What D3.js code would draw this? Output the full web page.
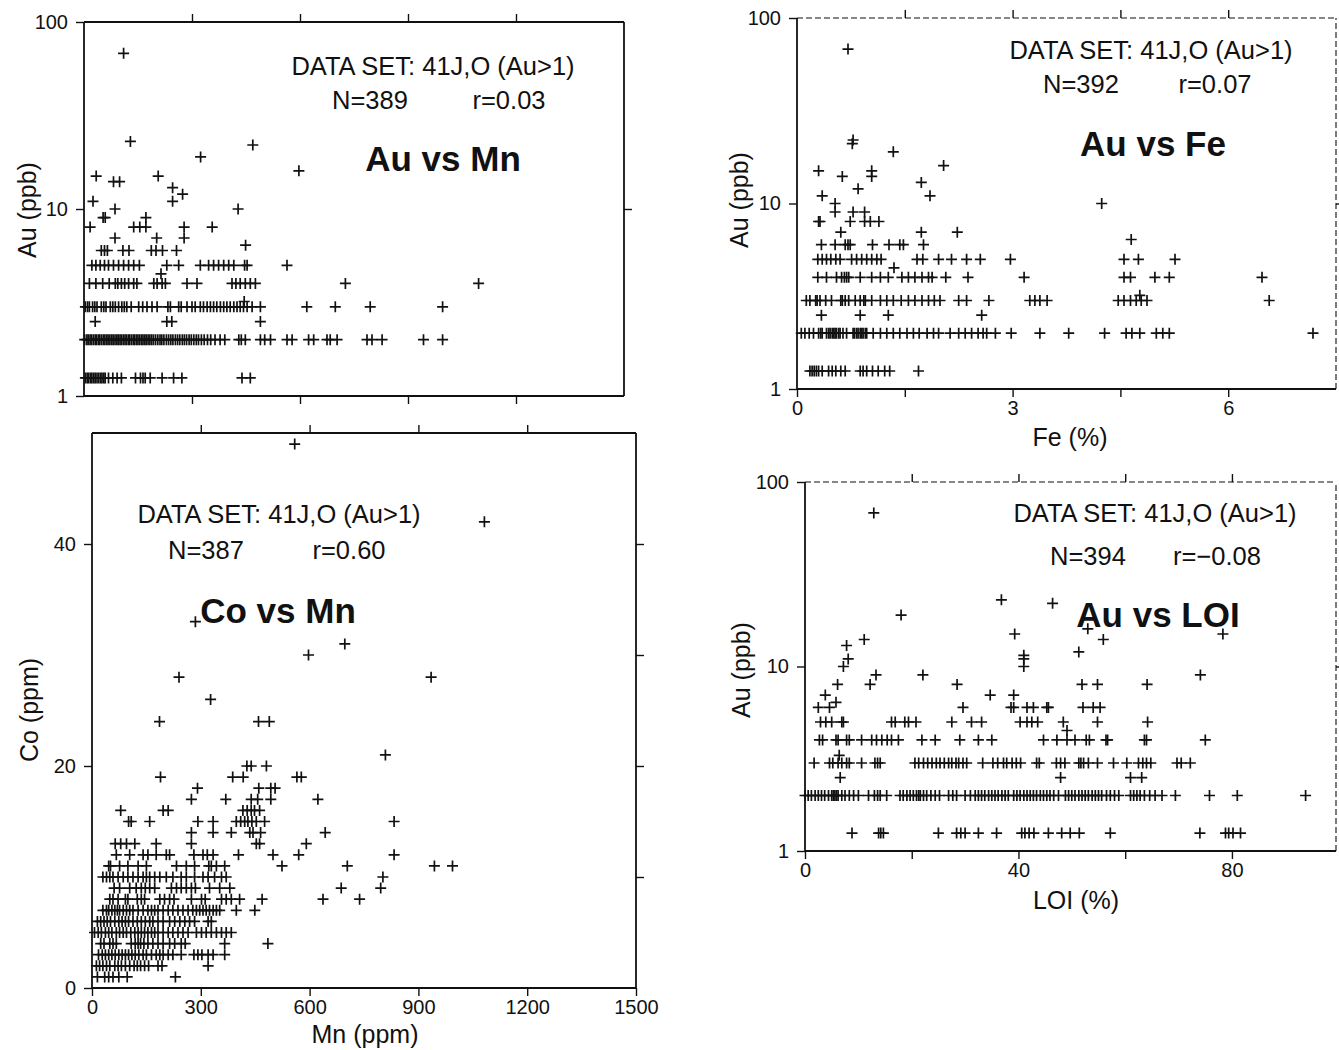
<!DOCTYPE html>
<html>
<head>
<meta charset="utf-8">
<script src="https://cdn.jsdelivr.net/npm/d3@7/dist/d3.min.js"></script>
<style>
  body { margin: 0; background: #fff; }
  svg { display: block; font-family: "Liberation Sans", Arial, Helvetica, sans-serif; }
  .tick text { font-size: 20px; fill: #111; }
  .tick line { stroke: #111; stroke-width: 1.4; }
</style>
</head>
<body>
<svg id="chart" width="1339" height="1050"></svg>
<script>
// ---- data: [y value, [x values...]] per row ----

// Au (ppb) vs Mn (ppm)
var auMnRows = [
  [1.25, [4, 9, 13, 18, 22, 27, 31, 36, 41, 46, 50, 55, 59, 68, 80, 92, 104, 143, 157, 164, 170, 184, 217, 249, 272, 439, 462]],
  [2, [2, 8, 12, 17, 21, 26, 31, 35, 40, 44, 49, 54, 58, 63, 67, 72, 77, 81, 86, 91, 95, 100, 104, 109, 114, 118, 123, 127, 132, 137, 141, 146, 150, 155, 160, 164, 169, 173, 178, 183, 188, 193, 199, 205, 211, 216, 222, 229, 235, 241, 247, 254, 260, 266, 273, 279, 285, 292, 298, 305, 312, 318, 326, 334, 343, 352, 364, 378, 391, 430, 437, 448, 490, 502, 518, 564, 578, 624, 638, 675, 684, 703, 786, 800, 828, 943, 996]],
  [2.5, [31, 230, 244, 490]],
  [3, [4, 10, 15, 24, 30, 36, 48, 55, 61, 73, 80, 87, 96, 105, 112, 119, 131, 152, 163, 175, 189, 203, 233, 240, 263, 270, 286, 300, 309, 323, 332, 342, 351, 360, 369, 379, 388, 397, 406, 416, 425, 434, 443, 453, 467, 490, 619, 698, 795, 996]],
  [3.2, [445]],
  [4, [15, 33, 52, 70, 87, 94, 104, 113, 124, 138, 147, 194, 203, 217, 226, 286, 314, 411, 422, 434, 448, 462, 476, 726, 1096]],
  [4.5, [214]],
  [5, [22, 33, 45, 57, 68, 82, 96, 110, 124, 138, 154, 230, 263, 323, 346, 360, 374, 388, 402, 416, 446, 453, 564]],
  [6, [48, 57, 65, 108, 125, 187, 200, 218, 257]],
  [6.4, [449]],
  [7, [86, 202, 278]],
  [8, [17, 138, 155, 172, 278, 356]],
  [9, [53, 59, 172]],
  [10, [86, 428]],
  [11, [25, 246]],
  [12, [274]],
  [13, [246]],
  [14, [82, 99]],
  [15, [34, 206]],
  [16, [597]],
  [19, [324]],
  [22, [469]],
  [23, [129]],
  [68, [110]]
];

// Au (ppb) vs Fe (%)
var auFeRows = [
  [1.25, [0.18, 0.21, 0.24, 0.27, 0.30, 0.35, 0.44, 0.49, 0.54, 0.61, 0.67, 0.88, 0.92, 0.97, 1.05, 1.13, 1.22, 1.29, 1.69]],
  [2, [0.06, 0.11, 0.17, 0.23, 0.30, 0.33, 0.35, 0.41, 0.44, 0.46, 0.49, 0.51, 0.53, 0.55, 0.58, 0.60, 0.64, 0.69, 0.78, 0.80, 0.83, 0.85, 0.88, 0.90, 0.92, 0.95, 0.97, 1.06, 1.16, 1.25, 1.34, 1.43, 1.53, 1.62, 1.70, 1.81, 1.90, 1.97, 2.13, 2.25, 2.34, 2.43, 2.52, 2.59, 2.64, 2.76, 2.98, 3.38, 3.78, 4.28, 4.58, 4.66, 4.77, 5.00, 5.09, 5.18, 7.18]],
  [2.5, [0.34, 0.88, 1.27, 2.57]],
  [3, [0.13, 0.18, 0.26, 0.28, 0.32, 0.40, 0.48, 0.61, 0.63, 0.67, 0.72, 0.81, 0.88, 0.93, 0.95, 1.04, 1.16, 1.25, 1.34, 1.45, 1.55, 1.64, 1.74, 1.83, 1.91, 1.99, 2.25, 2.36, 2.67, 3.24, 3.31, 3.38, 3.48, 4.47, 4.55, 4.64, 4.72, 4.79, 4.87, 6.57]],
  [3.2, [4.77]],
  [4, [0.29, 0.41, 0.55, 0.62, 0.66, 0.69, 0.72, 0.88, 1.04, 1.16, 1.27, 1.46, 1.55, 1.64, 1.74, 1.83, 1.88, 2.07, 2.38, 3.16, 4.55, 4.64, 4.98, 5.18, 6.47]],
  [4.5, [1.35]],
  [5, [0.29, 0.35, 0.41, 0.47, 0.54, 0.60, 0.76, 0.83, 0.90, 0.97, 1.04, 1.11, 1.17, 1.67, 1.75, 1.97, 2.15, 2.36, 2.55, 2.97, 4.55, 4.75, 5.26]],
  [6, [0.34, 0.53, 0.67, 0.71, 0.74, 1.05, 1.28, 1.43, 1.48, 1.76]],
  [6.4, [4.65]],
  [7, [0.61, 1.73, 2.23]],
  [8, [0.30, 0.32, 0.74, 0.94, 1.02, 1.14]],
  [9, [0.53, 0.78, 0.94]],
  [10, [0.53, 4.24]],
  [11, [0.35, 1.85]],
  [12, [0.85]],
  [13, [1.73]],
  [14, [0.63, 1.04]],
  [15, [0.30, 1.04]],
  [16, [2.04]],
  [19, [1.34]],
  [21, [0.77]],
  [22, [0.78]],
  [68, [0.71]]
];

// Co (ppm) vs Mn (ppm)
var coMnRows = [
  [1, [15, 35, 46, 58, 74, 97, 230]],
  [2, [12, 21, 30, 40, 49, 63, 72, 81, 92, 104, 116, 125, 134, 145, 156, 182, 193, 320]],
  [3, [18, 28, 37, 46, 55, 64, 74, 83, 92, 101, 110, 119, 129, 141, 150, 164, 177, 187, 196, 210, 223, 246, 281, 292, 303, 320, 334, 366]],
  [4, [24, 33, 49, 58, 67, 108, 119, 127, 134, 143, 154, 168, 182, 196, 214, 228, 246, 257, 366, 485]],
  [5, [7, 17, 26, 37, 46, 55, 67, 76, 86, 95, 107, 118, 127, 136, 145, 154, 164, 173, 182, 196, 210, 223, 237, 251, 265, 288, 302, 315, 329, 343, 357, 370, 384]],
  [6, [15, 24, 33, 42, 51, 63, 74, 83, 92, 101, 113, 125, 136, 147, 159, 168, 182, 196, 214, 228, 242, 256, 269, 283, 320, 329]],
  [7, [30, 40, 46, 55, 63, 70, 76, 86, 95, 104, 113, 127, 141, 154, 164, 173, 182, 196, 210, 223, 237, 251, 265, 278, 288, 297, 306, 315, 324, 334, 343, 352, 398, 449]],
  [8, [49, 58, 72, 92, 99, 125, 136, 145, 187, 200, 214, 226, 274, 302, 312, 357, 370, 384, 407, 469, 637, 738]],
  [9, [61, 76, 104, 122, 136, 147, 159, 173, 219, 233, 246, 260, 274, 285, 324, 352, 380, 687, 796]],
  [10, [30, 40, 49, 58, 72, 86, 99, 113, 127, 141, 150, 159, 173, 187, 205, 223, 246, 260, 283, 306, 320, 338, 357, 370, 802]],
  [11, [46, 51, 76, 99, 127, 150, 233, 260, 283, 322, 329, 343, 366, 524, 704, 944, 994]],
  [12, [67, 104, 141, 154, 177, 205, 214, 281, 306, 318, 334, 404, 499, 570, 833]],
  [13, [64, 79, 95, 118, 177, 274, 453, 462, 591]],
  [14, [274, 334, 384, 435, 444, 465, 643]],
  [15, [101, 108, 159, 292, 334, 398, 410, 421, 430, 441, 453, 476, 833]],
  [16, [79, 196, 210, 416, 428, 439, 448, 462]],
  [17, [274, 369, 439, 457, 493, 623]],
  [18, [291, 460, 493, 505]],
  [19, [189, 388, 417, 565, 577]],
  [20, [427, 439, 481]],
  [21, [809]],
  [24, [186, 459, 489]],
  [26, [327]],
  [28, [240, 935]],
  [30, [597]],
  [31, [697]],
  [33, [285]],
  [42, [1082]],
  [49, [559]]
];

// Au (ppb) vs LOI (%)
var auLoiRows = [
  [1.25, [8.8, 13.8, 14.2, 14.7, 25.0, 28.4, 29.2, 30.0, 32.5, 35.9, 40.6, 41.2, 42.0, 42.9, 45.6, 48.1, 49.7, 51.4, 57.2, 74.0, 78.8, 79.4, 80.2, 81.6]],
  [2, [0.0, 0.6, 1.2, 1.9, 2.5, 3.1, 3.7, 4.4, 5.0, 5.3, 5.6, 5.9, 6.2, 6.9, 7.5, 8.3, 9.1, 10.0, 11.9, 13.0, 13.6, 14.1, 15.3, 17.8, 18.4, 19.1, 19.7, 20.3, 20.9, 21.3, 21.6, 22.2, 22.8, 23.6, 24.4, 25.2, 26.9, 27.7, 28.4, 30.0, 31.0, 31.9, 32.5, 33.1, 33.7, 34.4, 35.0, 35.6, 36.2, 36.9, 37.5, 38.1, 39.1, 39.7, 40.3, 41.0, 41.6, 42.2, 42.8, 43.4, 44.1, 44.7, 45.3, 45.9, 46.6, 47.5, 48.8, 49.4, 50.0, 50.6, 51.3, 51.9, 52.5, 53.1, 53.8, 54.4, 55.0, 55.6, 56.5, 57.2, 58.0, 58.8, 61.0, 61.6, 62.2, 62.8, 63.6, 64.6, 65.6, 66.9, 69.4, 75.8, 81.0, 93.8]],
  [2.5, [6.6, 47.9, 61.0, 63.1]],
  [3, [1.7, 4.6, 5.2, 6.2, 6.9, 7.8, 8.3, 10.6, 13.1, 13.6, 14.1, 20.6, 21.3, 22.2, 23.0, 23.8, 24.6, 25.3, 26.1, 26.9, 27.5, 28.3, 28.8, 29.6, 30.3, 33.3, 35.2, 36.1, 37.2, 37.8, 38.8, 39.6, 40.4, 43.4, 43.9, 47.1, 47.9, 48.7, 51.3, 51.7, 52.2, 53.1, 54.8, 57.8, 60.3, 62.5, 63.3, 64.0, 64.8, 69.7, 70.5, 72.2]],
  [3.3, [6.4]],
  [4, [2.7, 3.3, 5.8, 6.2, 7.8, 8.3, 10.6, 12.5, 13.4, 14.4, 15.4, 16.2, 17.5, 21.9, 24.4, 29.0, 32.5, 35.0, 44.7, 47.2, 49.1, 50.6, 52.7, 53.3, 56.4, 56.7, 63.6, 64.0, 75.0]],
  [4.5, [49.1]],
  [5, [2.9, 3.9, 5.0, 6.9, 7.2, 16.2, 16.9, 18.7, 19.4, 20.8, 27.5, 31.2, 33.1, 40.3, 41.6, 42.5, 43.6, 48.4, 54.8, 64.2]],
  [6, [2.5, 4.6, 29.6, 38.6, 39.1, 41.6, 42.8, 45.3, 45.6, 52.1, 54.0, 55.3]],
  [6.4, [5.8]],
  [7, [3.8, 34.7, 39.1]],
  [8, [6.1, 12.2, 28.5, 51.9, 54.8, 64.1]],
  [9, [13.3, 22.1, 74.1]],
  [10, [7.2, 41]],
  [11, [8.1, 41]],
  [11.5, [41]],
  [12, [51.3]],
  [13, [7.8]],
  [14, [11.1, 55.9]],
  [15, [39.3, 78.3]],
  [16, [53.0]],
  [19, [18.0]],
  [22, [46.4]],
  [23, [36.8]],
  [68, [12.9]]
];

var mnTicks = [0, 300, 600, 900, 1200, 1500];
var feTicks = [0, 1.5, 3, 4.5, 6];
var feLabels = [0, 3, 6];
var loiTicks = [0, 20, 40, 60, 80];
var loiLabels = [0, 40, 80];
var auTicks = [1, 10, 100];
var coTicks = [0, 20, 40];
var coRightTicks = [10, 20, 30, 40];

var dataSet = "DATA SET: 41J,O (Au>1)";

var svg = d3.select("#chart");
svg.append("rect").attr("width", 1339).attr("height", 1050).attr("fill", "#fff");

var plus = "M-5.5,0H5.5M0,-5.5V5.5";

function toPoints(rows) {
  var pts = [];
  rows.forEach(function (r) {
    r[1].forEach(function (v) { pts.push([v, r[0]]); });
  });
  return pts;
}

function label(g, pos, str, size, bold) {
  var t = g.append("text").attr("x", pos[0]).attr("y", pos[1]).attr("dy", "0.36em")
    .attr("text-anchor", "middle").attr("font-size", size).attr("fill", "#111").text(str);
  if (bold) t.attr("font-weight", "bold");
  return t;
}

function drawPanel(p) {
  var g = svg.append("g");
  var x = p.x, y = p.y;
  var x0 = x.range()[0], x1 = x.range()[1];
  var y0 = y.range()[0], y1 = y.range()[1];

  // ticks (outward, no domain line)
  var left = g.append("g").attr("transform", "translate(" + x0 + ",0)")
    .call(d3.axisLeft(y).tickValues(p.yTicks).tickSize(8).tickPadding(8)
      .tickFormat(d3.format("d")));
  var right = g.append("g").attr("transform", "translate(" + x1 + ",0)")
    .call(d3.axisRight(y).tickValues(p.yRight).tickSize(8).tickFormat(""));
  var top = g.append("g").attr("transform", "translate(0," + y1 + ")")
    .call(d3.axisTop(x).tickValues(p.xTop).tickSize(8).tickFormat(""));
  var bottom = g.append("g").attr("transform", "translate(0," + y0 + ")")
    .call(d3.axisBottom(x).tickValues(p.xBottom).tickSize(8).tickPadding(4)
      .tickFormat(function (d) { return p.xLabels.indexOf(d) >= 0 ? d : ""; }));
  [left, right, top, bottom].forEach(function (a) { a.select(".domain").remove(); });

  // frame
  function line(xa, ya, xb, yb, dashed) {
    var l = g.append("line").attr("x1", xa).attr("y1", ya).attr("x2", xb).attr("y2", yb)
      .attr("stroke", "#111").attr("stroke-width", 1.8);
    if (dashed) l.attr("stroke-dasharray", "6,3").attr("stroke-width", 1.1);
  }
  line(x0, y0, x0, y1, false);
  line(x0, y0, x1, y0, false);
  line(x0, y1, x1, y1, p.dashed);
  line(x1, y0, x1, y1, p.dashed);

  // points
  g.append("g").selectAll("path")
    .data(toPoints(p.rows))
    .enter().append("path")
    .attr("d", plus)
    .attr("transform", function (d) { return "translate(" + x(d[0]).toFixed(1) + "," + y(d[1]).toFixed(1) + ")"; })
    .attr("stroke", "#111")
    .attr("stroke-width", 1.7)
    .attr("fill", "none");

  // annotations
  label(g, p.ds, dataSet, 25.5);
  label(g, p.n, p.nText, 25.5);
  label(g, p.r, p.rText, 25.5);
  label(g, p.title, p.titleText, 35, true);

  // axis titles
  g.append("text").attr("transform", "translate(" + p.yTitle[0] + "," + p.yTitle[1] + ") rotate(-90)")
    .attr("dy", "0.36em").attr("text-anchor", "middle").attr("font-size", 25).attr("fill", "#111")
    .text(p.yTitleText);
  if (p.xTitleText) label(g, p.xTitle, p.xTitleText, 25);
}

// Au vs Mn (top left)
drawPanel({
  rows: auMnRows,
  x: d3.scaleLinear().domain([0, 1500]).range([84, 624]),
  y: d3.scaleLog().domain([1, 100]).range([396, 22]),
  yTicks: auTicks, yRight: [10],
  xTop: mnTicks.slice(1, 5), xBottom: mnTicks.slice(1, 5), xLabels: [],
  dashed: false,
  ds: [433, 66], n: [370, 100], r: [509, 100], title: [443, 158],
  nText: "N=389", rText: "r=0.03", titleText: "Au vs Mn",
  yTitle: [27, 210], yTitleText: "Au (ppb)"
});

// Au vs Fe (top right)
drawPanel({
  rows: auFeRows,
  x: d3.scaleLinear().domain([0, 7.5]).range([797, 1336]),
  y: d3.scaleLog().domain([1, 100]).range([389, 18]),
  yTicks: auTicks, yRight: [10],
  xTop: feTicks.slice(1), xBottom: feTicks, xLabels: feLabels,
  dashed: true,
  ds: [1151, 50], n: [1081, 84], r: [1215, 84], title: [1153, 143],
  nText: "N=392", rText: "r=0.07", titleText: "Au vs Fe",
  yTitle: [739, 200], yTitleText: "Au (ppb)",
  xTitle: [1070, 437], xTitleText: "Fe (%)"
});

// Co vs Mn (bottom left)
drawPanel({
  rows: coMnRows,
  x: d3.scaleLinear().domain([0, 1500]).range([92, 636]),
  y: d3.scaleLinear().domain([0, 50]).range([988, 433]),
  yTicks: coTicks, yRight: coRightTicks,
  xTop: mnTicks.slice(1, 5), xBottom: mnTicks, xLabels: mnTicks,
  dashed: false,
  ds: [279, 514], n: [206, 550], r: [349, 550], title: [278, 610],
  nText: "N=387", rText: "r=0.60", titleText: "Co vs Mn",
  yTitle: [29, 710], yTitleText: "Co (ppm)",
  xTitle: [365, 1034], xTitleText: "Mn (ppm)"
});

// Au vs LOI (bottom right)
drawPanel({
  rows: auLoiRows,
  x: d3.scaleLinear().domain([0, 99.5]).range([805, 1336]),
  y: d3.scaleLog().domain([1, 100]).range([851, 482]),
  yTicks: auTicks, yRight: [10],
  xTop: loiTicks.slice(1), xBottom: loiTicks, xLabels: loiLabels,
  dashed: true,
  ds: [1155, 513], n: [1088, 556], r: [1217, 556], title: [1158, 614],
  nText: "N=394", rText: "r=\u22120.08", titleText: "Au vs LOI",
  yTitle: [741, 670], yTitleText: "Au (ppb)",
  xTitle: [1076, 900], xTitleText: "LOI (%)"
});
</script>
</body>
</html>
